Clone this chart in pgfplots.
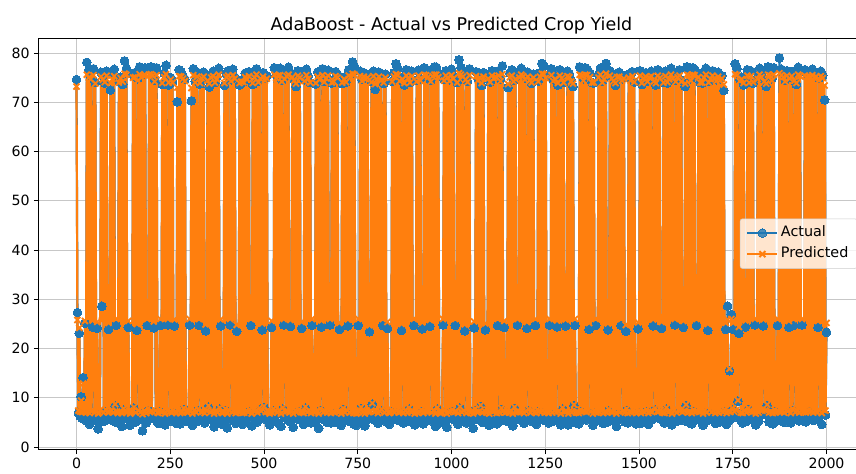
\documentclass[border=0pt]{standalone}
\usepackage{fontspec}
\setmainfont{DejaVu Sans}
\usepackage{pgfplots}
\usepackage{pgfplotstable}
\pgfplotsset{compat=1.18}
\definecolor{c0}{HTML}{1F77B4}
\definecolor{c1}{HTML}{FF7F0E}
% one row per sample (actual, predicted), samples evenly spread over 0..2000
\pgfplotstableread{
a p
74.6 73.2
27.3 25.8
6.9 7.4
23.1 24.2
6.2 7.2
10.2 9.4
5.8 7.1
14.1 12.9
6.6 7.3
25.1 25.6
5.4 7.0
78.1 75.6
5.9 7.2
76.5 75.0
4.6 6.9
75.2 74.7
6.4 7.3
24.4 25.7
76.8 75.5
5.5 7.0
74.0 73.8
6.2 7.3
24.1 25.4
3.7 6.8
5.1 7.0
6.8 7.5
76.1 75.2
28.6 25.7
75.4 74.6
5.2 7.0
73.9 74.1
7.1 7.6
76.3 75.4
5.6 7.1
23.9 25.2
6.0 7.2
72.5 73.9
6.7 7.4
75.8 74.7
5.3 7.0
76.7 75.3
8.3 8.7
24.7 26.0
6.4 7.2
4.9 6.9
74.3 74.0
6.1 7.2
75.1 74.9
4.2 6.9
73.6 74.2
7.5 7.8
78.4 75.8
6.0 7.2
76.9 75.6
5.7 7.1
24.3 25.6
6.7 7.4
4.4 6.8
5.0 7.0
6.3 7.3
75.6 75.0
7.9 8.1
76.0 75.1
5.1 7.0
23.7 25.0
74.8 74.4
6.5 7.4
77.2 75.7
5.6 7.1
75.6 75.0
3.3 6.7
76.4 75.4
6.9 7.4
77.0 75.5
4.9 6.9
24.7 26.0
7.4 7.9
76.9 75.6
5.7 7.1
77.2 75.7
6.2 7.3
76.4 75.4
24.2 25.5
74.5 74.2
6.9 7.4
77.0 75.5
5.0 7.0
4.8 6.9
7.2 7.6
24.7 26.0
5.8 7.1
73.6 73.9
6.3 7.3
75.9 75.1
4.5 6.8
77.5 75.7
6.6 7.4
24.8 26.0
73.5 74.0
5.9 7.2
75.0 74.6
5.3 7.0
74.1 74.0
7.0 7.5
24.6 25.9
6.1 7.2
4.8 6.9
70.1 73.0
6.8 7.5
76.6 75.3
4.7 6.9
76.2 75.2
5.7 7.1
75.3 74.8
7.6 7.9
74.7 74.3
6.2 7.3
5.9 7.2
5.2 7.0
6.9 7.5
24.8 26.0
6.4 7.3
70.3 72.9
4.4 6.8
76.8 75.5
6.9 7.5
74.2 74.0
5.1 7.0
76.1 75.2
7.3 7.7
24.7 26.0
73.7 73.9
5.5 7.1
75.5 74.9
6.0 7.2
76.1 75.2
4.9 6.9
23.6 24.9
6.7 7.4
74.9 74.4
8.1 8.4
73.1 73.8
5.6 7.1
75.6 75.0
6.3 7.3
76.3 75.3
4.1 6.8
74.0 74.0
6.5 7.4
75.2 74.7
5.0 7.0
76.9 75.6
7.7 8.0
24.6 25.9
5.3 7.0
4.6 6.9
6.1 7.2
73.4 73.9
7.4 7.8
75.8 75.1
3.9 6.8
76.4 75.4
6.8 7.5
24.8 26.0
74.6 74.3
5.4 7.1
76.7 75.5
6.2 7.3
75.1 74.8
4.8 6.9
23.5 24.8
6.6 7.4
5.7 7.1
73.5 73.9
6.0 7.2
74.5 74.2
4.6 6.9
74.1 74.1
5.2 7.0
75.9 75.1
6.6 7.4
75.0 74.6
5.8 7.1
76.2 75.3
7.1 7.6
24.7 26.0
4.3 6.8
73.6 73.9
6.9 7.5
75.7 75.0
6.4 7.3
76.8 75.6
5.1 7.0
74.3 74.1
7.5 7.9
75.4 74.8
6.2 7.3
23.8 25.1
76.0 75.2
8.0 8.3
74.9 74.4
5.6 7.1
75.4 74.8
6.7 7.4
5.8 7.1
4.5 6.8
6.1 7.2
24.3 25.6
5.4 7.0
7.3 7.7
77.0 75.6
6.5 7.4
75.5 74.9
5.0 7.0
76.6 75.4
6.8 7.5
76.9 75.5
4.2 6.8
74.4 74.2
7.7 8.0
24.8 26.0
75.2 74.7
5.9 7.2
76.3 75.3
6.3 7.3
77.1 75.6
5.2 7.0
24.5 25.8
6.4 7.3
75.8 75.1
4.0 6.8
74.7 74.4
6.9 7.5
73.2 73.8
5.7 7.1
76.4 75.4
7.2 7.6
75.6 75.0
5.5 7.1
24.1 25.4
6.0 7.2
4.6 6.9
74.6 74.3
7.9 8.2
76.7 75.5
5.8 7.1
75.3 74.8
6.6 7.4
74.0 74.0
4.9 6.9
24.7 26.0
6.2 7.3
6.6 7.4
5.3 7.0
73.7 73.9
6.7 7.4
76.1 75.2
3.8 6.8
75.0 74.6
7.4 7.8
24.4 25.7
76.8 75.5
5.6 7.1
74.2 74.1
6.2 7.3
75.4 74.9
5.0 7.0
76.5 75.4
6.8 7.5
24.8 26.0
4.9 6.9
73.9 74.0
6.1 7.2
74.5 74.2
5.0 7.0
76.2 75.3
7.0 7.6
75.7 75.0
5.9 7.2
23.9 25.2
6.4 7.3
4.4 6.8
73.8 74.0
7.6 7.9
75.1 74.7
5.4 7.0
74.1 74.1
6.8 7.5
24.6 25.9
76.6 75.4
5.2 7.0
75.8 75.1
6.3 7.3
78.2 75.8
4.7 6.9
77.3 75.6
6.5 7.4
4.4 6.8
5.1 7.0
24.7 26.0
6.0 7.2
76.3 75.3
7.8 8.1
74.7 74.3
5.6 7.1
76.0 75.2
4.3 6.8
75.2 74.7
6.5 7.4
75.6 75.0
5.7 7.1
23.4 24.7
6.1 7.2
74.2 74.1
8.7 8.9
76.3 75.3
5.5 7.1
72.6 73.7
6.7 7.4
75.0 74.6
4.8 6.9
76.1 75.2
6.2 7.3
74.9 74.4
7.3 7.7
24.7 26.0
73.8 74.0
5.3 7.0
75.7 75.0
6.6 7.4
24.1 25.4
5.8 7.1
4.6 6.9
5.3 7.0
7.1 7.6
74.3 74.2
6.4 7.3
76.0 75.2
5.6 7.1
77.8 75.7
6.9 7.5
76.8 75.5
5.4 7.0
74.6 74.3
6.1 7.2
23.7 25.0
75.1 74.7
4.9 6.9
73.5 73.9
6.8 7.5
76.6 75.4
5.2 7.0
75.4 74.9
7.7 8.0
74.0 74.0
5.7 7.1
76.3 75.3
6.3 7.3
24.7 26.0
4.5 6.8
6.6 7.4
74.5 74.2
5.1 7.0
76.5 75.4
6.0 7.2
74.8 74.4
7.2 7.6
24.0 25.3
4.7 6.9
77.0 75.6
6.4 7.3
76.7 75.5
5.9 7.2
75.9 75.1
6.4 7.3
24.5 25.8
74.4 74.2
5.3 7.0
76.3 75.3
6.8 7.5
77.2 75.6
4.2 6.8
77.1 75.6
7.7 8.0
75.8 75.1
5.9 7.2
4.9 6.9
6.3 7.3
5.2 7.0
24.8 26.0
74.7 74.4
6.9 7.5
76.4 75.4
4.0 6.8
75.6 75.0
5.7 7.1
74.6 74.3
6.4 7.3
76.7 75.5
7.2 7.6
75.3 74.8
5.5 7.1
24.7 26.0
6.0 7.2
74.0 74.0
4.6 6.9
78.6 75.9
7.9 8.2
77.0 75.6
5.8 7.1
76.1 75.2
6.6 7.4
23.6 24.9
75.0 74.6
4.9 6.9
74.2 74.1
6.2 7.3
76.8 75.5
5.3 7.0
6.0 7.2
6.7 7.4
3.8 6.8
24.2 25.5
7.4 7.8
76.2 75.3
5.6 7.1
74.8 74.4
6.1 7.2
75.7 75.0
8.2 8.5
73.4 73.9
5.0 7.0
76.0 75.2
6.4 7.3
23.8 25.1
5.4 7.0
7.0 7.6
75.3 74.8
4.4 6.8
74.1 74.1
6.8 7.5
76.4 75.4
5.9 7.2
75.5 74.9
6.7 7.4
75.8 75.1
4.7 6.9
24.7 26.0
76.4 75.4
5.2 7.0
74.7 74.3
7.6 7.9
77.4 75.7
6.3 7.3
24.3 25.6
5.4 7.0
5.6 7.1
6.9 7.5
73.0 73.7
5.1 7.0
75.9 75.1
6.5 7.4
76.6 75.4
4.3 6.8
74.4 74.2
7.8 8.1
75.2 74.7
5.7 7.1
24.8 26.0
6.0 7.2
75.6 75.0
5.5 7.1
76.9 75.6
6.7 7.4
76.3 75.3
4.8 6.9
75.0 74.6
6.2 7.3
24.1 25.4
76.1 75.2
7.3 7.7
74.9 74.4
5.3 7.0
73.8 74.0
6.6 7.4
75.7 75.0
5.8 7.1
24.7 26.0
4.6 6.9
7.1 7.6
74.3 74.2
6.4 7.3
76.0 75.2
5.6 7.1
77.9 75.8
6.9 7.5
77.4 75.7
5.4 7.0
75.5 74.9
6.1 7.2
6.3 7.3
4.9 6.9
24.8 26.0
6.8 7.5
76.8 75.5
5.2 7.0
74.6 74.3
6.5 7.4
75.1 74.7
5.7 7.1
24.4 25.7
73.5 73.9
6.3 7.3
76.6 75.4
4.5 6.8
75.4 74.9
7.7 8.0
74.0 74.0
5.7 7.1
24.6 25.9
6.3 7.3
76.3 75.3
4.5 6.8
75.8 75.1
6.6 7.4
74.5 74.2
5.0 7.0
73.2 73.8
8.4 8.6
24.7 26.0
5.1 7.0
6.0 7.2
5.5 7.1
4.7 6.9
77.2 75.6
7.2 7.6
76.5 75.4
5.9 7.2
74.8 74.4
6.4 7.3
77.0 75.6
5.5 7.1
76.7 75.5
6.9 7.5
23.9 25.2
75.9 75.1
6.2 7.3
74.0 74.0
4.4 6.8
73.9 74.0
6.9 7.5
24.7 26.0
5.3 7.0
7.0 7.6
75.6 75.0
5.6 7.1
76.9 75.6
6.5 7.4
74.2 74.0
4.8 6.9
75.1 74.7
6.1 7.2
77.9 75.8
5.0 7.0
23.8 25.1
7.3 7.7
76.4 75.4
6.0 7.2
75.3 74.8
5.5 7.1
74.6 74.3
6.8 7.5
73.4 73.9
4.2 6.8
75.9 75.1
6.7 7.4
76.1 75.2
5.8 7.1
24.7 26.0
74.8 74.4
6.3 7.3
75.4 74.8
5.1 7.0
23.5 24.8
7.4 7.8
4.9 6.9
75.7 75.0
6.0 7.2
74.9 74.4
5.6 7.1
76.2 75.3
7.0 7.5
74.1 74.1
6.2 7.3
4.7 6.9
5.3 7.0
24.0 25.3
6.9 7.4
76.4 75.4
4.8 6.9
73.6 73.9
6.4 7.3
75.5 74.9
5.8 7.1
76.0 75.2
7.1 7.6
74.3 74.2
4.6 6.9
75.7 75.0
6.4 7.3
76.3 75.3
5.6 7.1
24.6 25.9
74.6 74.3
7.5 7.9
73.5 73.9
6.1 7.2
76.6 75.4
5.9 7.2
75.4 74.9
6.9 7.5
24.1 25.4
5.4 7.0
74.0 74.0
4.9 6.9
76.3 75.3
7.7 8.0
73.9 74.1
5.7 7.1
75.2 74.7
6.3 7.3
76.9 75.6
4.5 6.8
75.3 74.8
6.6 7.4
24.8 26.0
74.5 74.2
5.2 7.0
75.8 75.1
7.0 7.6
76.6 75.4
6.6 7.4
74.5 74.2
5.5 7.1
24.3 25.6
6.2 7.3
73.2 73.8
8.4 8.6
77.2 75.6
5.1 7.0
76.5 75.4
6.0 7.2
74.8 74.4
4.7 6.9
77.0 75.6
7.2 7.6
76.7 75.5
5.9 7.2
24.7 26.0
6.4 7.3
75.9 75.1
5.5 7.1
74.0 74.0
6.2 7.3
73.9 74.0
4.4 6.8
75.6 75.0
6.9 7.5
76.9 75.6
5.3 7.0
23.7 25.0
74.2 74.0
7.0 7.6
75.1 74.7
5.6 7.1
76.4 75.4
6.5 7.4
75.3 74.8
4.8 6.9
74.6 74.3
6.1 7.2
76.1 75.2
5.0 7.0
74.8 74.4
6.8 7.5
75.4 74.8
5.8 7.1
72.4 73.6
7.1 7.6
23.9 25.2
4.6 6.9
28.6 25.9
6.4 7.3
15.5 15.9
5.6 7.1
26.9 26.0
7.5 7.9
23.9 25.2
6.1 7.2
77.8 75.7
6.9 7.5
76.8 75.5
9.3 9.5
23.1 24.4
74.6 74.3
5.4 7.0
75.1 74.7
4.9 6.9
73.5 73.9
6.8 7.5
24.4 25.7
5.2 7.0
76.6 75.4
7.6 7.9
74.0 74.0
6.3 7.3
76.3 75.3
5.7 7.1
73.9 74.1
6.3 7.3
24.8 26.0
4.5 6.8
6.6 7.4
75.2 74.7
5.2 7.0
76.9 75.6
7.0 7.6
75.8 75.1
6.6 7.4
24.6 25.9
74.5 74.2
6.6 7.4
73.2 73.8
8.4 8.6
77.2 75.6
5.1 7.0
76.5 75.4
6.0 7.2
74.8 74.4
4.7 6.9
77.0 75.6
7.2 7.6
5.2 7.0
5.9 7.2
24.7 26.0
6.4 7.3
79.0 75.9
5.5 7.1
76.7 75.5
6.4 7.3
75.9 75.1
5.0 7.0
74.5 74.2
6.9 7.5
76.4 75.4
6.2 7.3
24.3 25.6
75.3 74.8
4.9 6.9
76.2 75.3
7.4 7.8
24.7 26.0
74.7 74.4
5.6 7.1
73.6 73.9
6.5 7.4
77.1 75.6
5.3 7.0
76.3 75.3
6.8 7.5
24.8 26.0
5.8 7.1
6.0 7.2
76.6 75.4
5.1 7.0
75.8 75.1
6.7 7.4
76.2 75.3
7.2 7.6
75.9 75.1
6.3 7.3
76.7 75.5
5.4 7.0
75.5 74.9
6.2 7.3
76.0 75.2
5.7 7.1
24.3 25.6
74.9 74.4
6.5 7.4
76.3 75.3
4.6 6.9
75.4 74.9
6.8 7.5
70.5 73.4
6.5 7.4
23.3 25.2
}\cropdata
\pgfplotstablegetrowsof{\cropdata}
\pgfmathsetmacro{\xstep}{2000/(\pgfplotsretval-1)}
\begin{document}
\begin{tikzpicture}
\begin{axis}[
  at={(0pt,0pt)}, anchor=south west,
  scale only axis, width=660pt, height=328.6pt,
  xmin=-100, xmax=2100, ymin=-0.4, ymax=83.0,
  xtick={0,250,...,2000}, ytick={0,10,...,80},
  /pgf/number format/1000 sep={},
  /pgf/number format/assume math mode=true,
  tick label style={font=\fontsize{11.3}{13}\selectfont},
  tick align=outside, tick pos=left,
  major tick length=4pt,
  tick style={black, line width=0.8pt},
  axis line style={line width=0.8pt, black},
  grid=major,
  grid style={color=black!22, line width=0.8pt},
  every axis title shift=0pt,
  title={AdaBoost - Actual vs Predicted Crop Yield},
  title style={anchor=base, yshift=6.4pt, font=\fontsize{14}{16}\selectfont},
  legend cell align=left,
  legend image code/.code={\draw[mark repeat=2,mark phase=2,#1] plot coordinates {(0cm,0cm) (0.42cm,0cm) (0.84cm,0cm)};},
  legend style={at={(0.992,0.5)}, anchor=east, fill=white, fill opacity=0.8, draw opacity=1, text opacity=1,
    draw=black!20, rounded corners=2pt, font=\fontsize{11.5}{13}\selectfont, row sep=1.8pt,
    inner xsep=5pt, inner ysep=4pt,
    nodes={inner sep=2pt, text height=8.5pt, text depth=2.5pt}},
]
\addplot[color=c0, line width=1.75pt, line join=round, mark=*, mark size=3.5pt,
  mark options={solid, fill=c0, draw=c0, line width=0pt}] table[x expr=\coordindex*\xstep, y=a]{\cropdata};
\addlegendentry{Actual}
\addplot[color=c1, line width=1.75pt, line join=round, mark=x, mark size=3.4pt,
  mark options={solid, line width=1.5pt}] table[x expr=\coordindex*\xstep, y=p]{\cropdata};
\addlegendentry{Predicted}
\end{axis}
\pgfresetboundingbox
\useasboundingbox (-31.2pt,-19.2pt) rectangle (653.6pt,359.2pt);
\end{tikzpicture}
\end{document}
